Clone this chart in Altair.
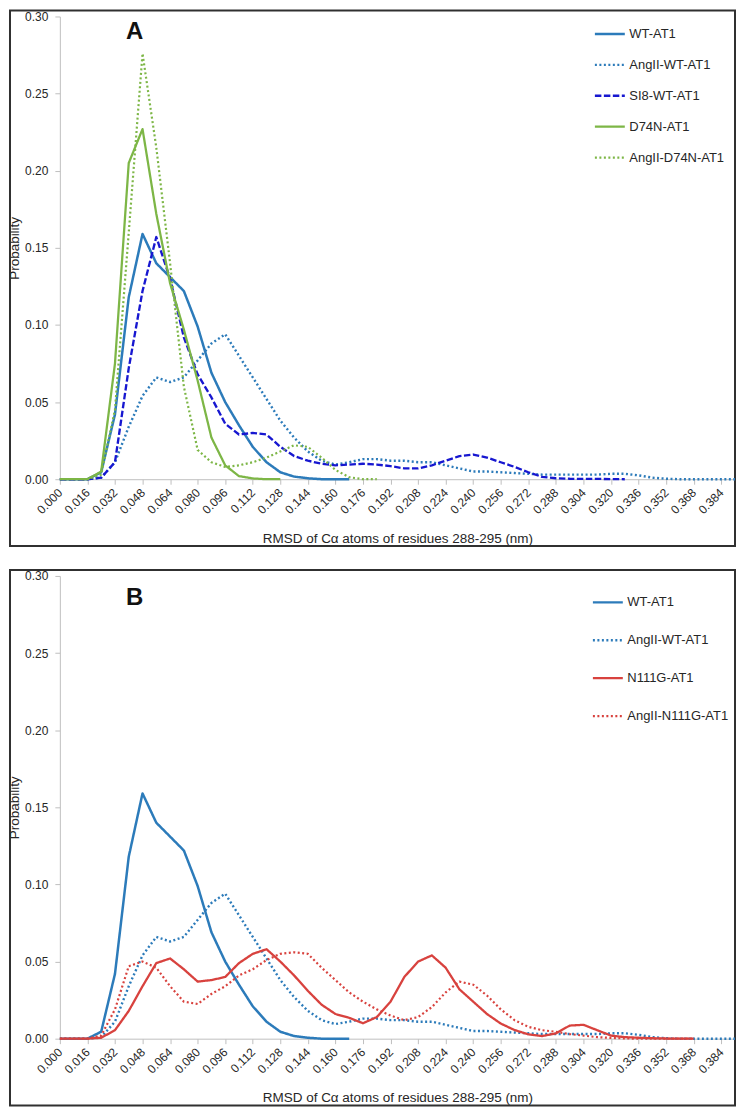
import altair as alt
import pandas as pd

# x categories (nm)
X = [0.000, 0.008, 0.016, 0.024, 0.032, 0.040, 0.048, 0.056, 0.064, 0.072,
     0.080, 0.088, 0.096, 0.104, 0.112, 0.120, 0.128, 0.136, 0.144, 0.152,
     0.160, 0.168, 0.176, 0.184, 0.192, 0.200, 0.208, 0.216, 0.224, 0.232,
     0.240, 0.248, 0.256, 0.264, 0.272, 0.280, 0.288, 0.296, 0.304, 0.312,
     0.320, 0.328, 0.336, 0.344, 0.352, 0.360, 0.368, 0.376, 0.384, 0.392]

XTICKS = [0.000, 0.016, 0.032, 0.048, 0.064, 0.080, 0.096, 0.112, 0.128, 0.144,
          0.160, 0.176, 0.192, 0.208, 0.224, 0.240, 0.256, 0.272, 0.288, 0.304,
          0.320, 0.336, 0.352, 0.368, 0.384]
YTICKS = [0.00, 0.05, 0.10, 0.15, 0.20, 0.25, 0.30]

WT = [0, 0, 0, 0.0045, 0.042, 0.118, 0.159, 0.140, 0.131, 0.122,
      0.099, 0.069, 0.050, 0.035, 0.021, 0.011, 0.0045, 0.0017, 0.0006, 0,
      0, 0]

ANGII_WT = [0, 0, 0, 0.001, 0.011, 0.034, 0.054, 0.066, 0.063, 0.066,
            0.077, 0.088, 0.094, 0.080, 0.066, 0.052, 0.038, 0.027, 0.018, 0.012,
            0.0095, 0.011, 0.013, 0.013, 0.012, 0.012, 0.011, 0.011, 0.009, 0.007,
            0.005, 0.005, 0.0045, 0.004, 0.0035, 0.003, 0.003, 0.003, 0.003, 0.003,
            0.0035, 0.0035, 0.0025, 0.001, 0.0003, 0, 0, 0, 0, 0]

SI8_WT = [0, 0, 0, 0.001, 0.011, 0.072, 0.122, 0.157, 0.130, 0.092,
          0.068, 0.053, 0.036, 0.029, 0.030, 0.029, 0.021, 0.015, 0.012, 0.010,
          0.009, 0.0095, 0.010, 0.0095, 0.0085, 0.007, 0.007, 0.009, 0.012, 0.015,
          0.016, 0.014, 0.011, 0.008, 0.0045, 0.0015, 0.0006, 0.0003, 0.0002, 0.0002,
          0.0001, 0]

D74N = [0, 0, 0, 0.005, 0.075, 0.205, 0.227, 0.172, 0.127, 0.097,
        0.064, 0.027, 0.009, 0.002, 0.0005, 0, 0]

ANGII_D74N = [0, 0, 0, 0.003, 0.045, 0.160, 0.276, 0.215, 0.140, 0.060,
              0.019, 0.011, 0.008, 0.009, 0.011, 0.014, 0.018, 0.022, 0.021, 0.014,
              0.006, 0.0013, 0, 0]

N111G = [0, 0, 0, 0.0006, 0.0055, 0.018, 0.034, 0.049, 0.052, 0.045,
         0.037, 0.038, 0.040, 0.049, 0.055, 0.058, 0.050, 0.041, 0.031, 0.022,
         0.016, 0.0135, 0.010, 0.014, 0.024, 0.040, 0.050, 0.054, 0.046, 0.032,
         0.024, 0.016, 0.0098, 0.0056, 0.0028, 0.0017, 0.0034, 0.0085, 0.009, 0.0055,
         0.002, 0.001, 0.0006, 0.0003, 0.0001, 0, 0]

ANGII_N111G = [0, 0, 0, 0.002, 0.019, 0.047, 0.050, 0.046, 0.034, 0.024,
               0.0225, 0.029, 0.034, 0.041, 0.045, 0.051, 0.055, 0.056, 0.055, 0.046,
               0.038, 0.030, 0.024, 0.019, 0.015, 0.012, 0.014, 0.0205, 0.030, 0.037,
               0.035, 0.028, 0.019, 0.012, 0.0077, 0.0055, 0.0045, 0.003, 0.002, 0.001,
               0.0005, 0.0002, 0, 0, 0, 0, 0]

NAMES_A = ["WT-AT1", "AngII-WT-AT1", "SI8-WT-AT1", "D74N-AT1", "AngII-D74N-AT1"]
SERIES_A = [WT, ANGII_WT, SI8_WT, D74N, ANGII_D74N]
NAMES_B = ["WT-AT1", "AngII-WT-AT1", "N111G-AT1", "AngII-N111G-AT1"]
SERIES_B = [WT, ANGII_WT, N111G, ANGII_N111G]

BLUE = "#2C7BBA"
DBLUE = "#1717D0"
GREEN = "#7DB646"
RED = "#D8423E"
SOLID = [1, 0]
DOT = [2, 2.5]
DASH = [6.5, 2.5]

COLORS_A = [BLUE, BLUE, DBLUE, GREEN, GREEN]
DASHES_A = [SOLID, DOT, DASH, SOLID, DOT]
WIDTHS_A = [2.5, 2.2, 3, 2.5, 2.2]
COLORS_B = [BLUE, BLUE, RED, RED]
DASHES_B = [SOLID, DOT, SOLID, DOT]
WIDTHS_B = [2.5, 2.2, 2.5, 2.2]

XTITLE = "RMSD of Cα atoms of residues 288-295 (nm)"
FONT = "Liberation Sans"
TXT = "#262626"
W, H = 677, 464


def make_df(names, series):
    rows = []
    for n, vals in zip(names, series):
        for i, v in enumerate(vals):
            rows.append({"series": n, "x": X[i], "y": v, "order": i})
    return pd.DataFrame(rows)


def panel(letter, names, series, colors, dashes, widths, leg_x, leg_y, row_pad, let_y):
    df = make_df(names, series)
    leg = dict(title=None, orient="none", legendX=leg_x, legendY=leg_y,
               symbolType="stroke", symbolSize=900, symbolStrokeWidth=2.5,
               labelFontSize=13, labelFont=FONT, labelColor=TXT, labelOffset=3,
               rowPadding=row_pad, padding=0, labelLimit=300)
    lines = alt.Chart(df).mark_line(strokeCap="butt", strokeJoin="round").encode(
        x=alt.X("x:Q", scale=alt.Scale(domain=[0, 0.392], nice=False, zero=False),
                axis=alt.Axis(values=XTICKS, format=".3f", labelAngle=-45,
                              labelAlign="right", labelBaseline="middle",
                              labelOverlap=False, labelBound=False,
                              labelPadding=6, tickSize=5, title=XTITLE,
                              titleY=59, titleBaseline="middle", titleX=W / 2,
                              titleAlign="center")),
        y=alt.Y("y:Q", scale=alt.Scale(domain=[0, 0.3], nice=False),
                axis=alt.Axis(values=YTICKS, format=".2f", tickSize=5,
                              labelPadding=7, title="Probability",
                              titleX=-45, titleY=H / 2, titleAngle=-90,
                              titleAlign="center", titleBaseline="middle")),
        color=alt.Color("series:N", scale=alt.Scale(domain=names, range=colors),
                        legend=alt.Legend(**leg)),
        strokeDash=alt.StrokeDash("series:N", scale=alt.Scale(domain=names, range=dashes),
                                  legend=alt.Legend(**leg)),
        strokeWidth=alt.StrokeWidth("series:N", scale=alt.Scale(domain=names, range=widths),
                                    legend=None),
        order="order:Q",
    )
    one = pd.DataFrame({"k": [0]})
    box = alt.Chart(one).mark_rect(fillOpacity=0, stroke="#303030", strokeWidth=2).encode(
        x=alt.value(-50), x2=alt.value(W), y=alt.value(-6), y2=alt.value(H + 67))
    lab = alt.Chart(pd.DataFrame({"t": [letter]})).mark_text(
        font=FONT, fontSize=24, fontWeight="bold", color="#111111").encode(
        x=alt.value(75), y=alt.value(let_y), text="t:N")
    return alt.layer(box, lines, lab).properties(width=W, height=H)


pa = panel("A", NAMES_A, SERIES_A, COLORS_A, DASHES_A, WIDTHS_A, 535, 1, 7, 16)
pb = panel("B", NAMES_B, SERIES_B, COLORS_B, DASHES_B, WIDTHS_B, 533, 10, 14, 22)

chart = alt.vconcat(pa, pb, spacing=22).resolve_scale(
    color="independent", strokeDash="independent", strokeWidth="independent"
).properties(padding=0).configure_view(
    stroke=None).configure_axis(
    grid=False, domainColor="#BFBFBF", tickColor="#BFBFBF", labelFont=FONT,
    labelFontSize=12, labelColor=TXT, titleFont=FONT, titleFontSize=13.5,
    titleColor=TXT, titleFontWeight="normal")

chart.save("out.html", embed_options={"renderer": "svg", "actions": False})
